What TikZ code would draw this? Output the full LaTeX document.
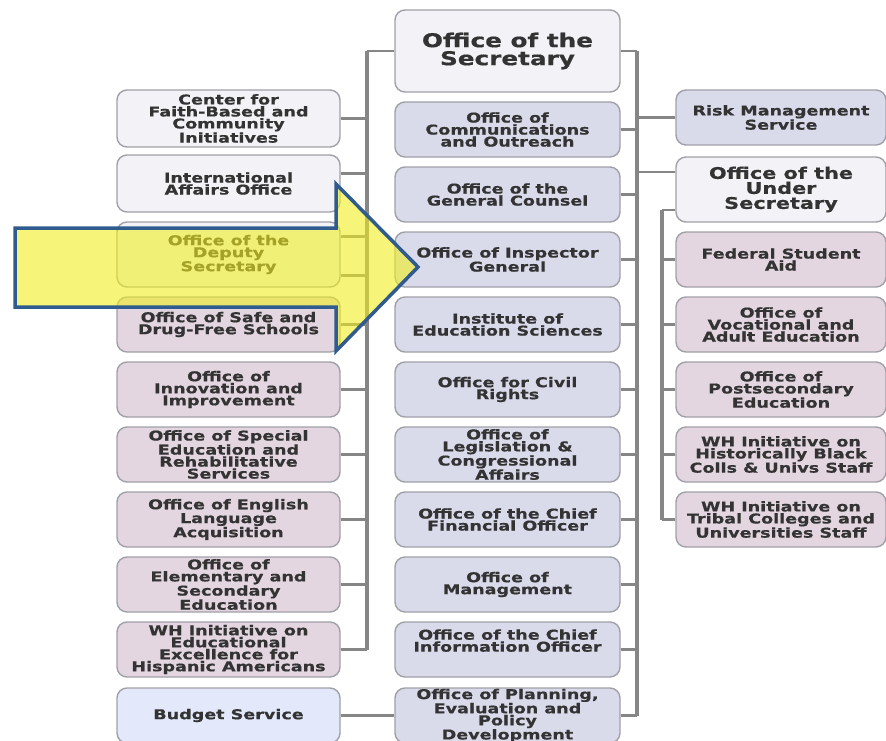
\documentclass[tikz,border=0pt]{standalone}
\usepackage{fontspec}
\newfontfamily\boxfont[FakeStretch=1.3,FakeBold=0.6]{DejaVu Sans}
\definecolor{textc}{HTML}{333333}
\definecolor{boxborder}{HTML}{A0A0A8}
\definecolor{whitefill}{HTML}{F3F3F7}
\definecolor{lavfill}{HTML}{D9DAEA}
\definecolor{pinkfill}{HTML}{E3D6E0}
\definecolor{bluefill}{HTML}{E3E8FA}
\definecolor{linec}{HTML}{868686}
\definecolor{arrowfill}{HTML}{F0EE20}
\definecolor{arrowline}{HTML}{2F5B8F}
\tikzset{
  bx/.style={draw=boxborder, line width=1.4pt, rounded corners=10pt, align=center,
    inner sep=0pt, text=textc, minimum height=55pt,
    font={\boxfont\bfseries\fontsize{13.5}{12}\selectfont}},
  bigtext/.style={font={\boxfont\bfseries\fontsize{19}{18}\selectfont}},
  medtext/.style={font={\boxfont\bfseries\fontsize{16}{15}\selectfont}},
  lcol/.style={bx, minimum width=223pt},
  ccol/.style={bx, minimum width=225pt},
  rcol/.style={bx, minimum width=210pt},
  wh/.style={fill=whitefill},
  lav/.style={fill=lavfill},
  pk/.style={fill=pinkfill},
  bl/.style={fill=bluefill},
  vline/.style={draw=linec, line width=4pt},
  conn/.style={draw=linec, line width=2.6pt},
  bigarrow/.style={fill=arrowfill, fill opacity=0.6, draw=arrowline, draw opacity=1, line width=3.5pt, line join=miter}
}
\begin{document}
\begin{tikzpicture}[x=1pt,y=-1pt]
\useasboundingbox (0,0) rectangle (886,741);
\clip (0,0) rectangle (886,741);
\fill[white] (0,0) rectangle (886,741);

\coordinate (L) at (367,0);
\coordinate (R) at (637,0);
\coordinate (U) at (662,0);

% center column
\node[ccol, wh, bigtext, minimum height=82pt] (sec) at (507.5,51) {Office of the\\Secretary};
\node[ccol, lav] (comm) at (507.5,129.5) {Office of\\Communications\\and Outreach};
\node[ccol, lav] (coun) at (507.5,194.5) {Office of the\\General Counsel};
\node[ccol, lav] (insp) at (507.5,259.5) {Office of Inspector\\General};
\node[ccol, lav] (ies) at (507.5,324.5) {Institute of\\Education Sciences};
\node[ccol, lav] (ocr) at (507.5,389.5) {Office for Civil\\Rights};
\node[ccol, lav] (leg) at (507.5,454.5) {Office of\\Legislation \&\\Congressional\\Affairs};
\node[ccol, lav] (cfo) at (507.5,519.5) {Office of the Chief\\Financial Officer};
\node[ccol, lav] (mgmt) at (507.5,584.5) {Office of\\Management};
\node[ccol, lav] (cio) at (507.5,649.5) {Office of the Chief\\Information Officer\\[6pt]};
\node[ccol, lav] (plan) at (507.5,715.5) {Office of Planning,\\Evaluation and\\Policy\\Development};

% left column
\node[lcol, wh, minimum height=57pt] (faith) at (228.5,118.5) {Center for\\Faith-Based and\\Community\\Initiatives};
\node[lcol, wh, minimum height=57pt] (intl) at (228.5,183.5) {International\\Affairs Office};
\node[lcol, wh, minimum height=65pt] (dep) at (228.5,254.5) {Office of the\\Deputy\\Secretary};
\node[lcol, pk] (safe) at (228.5,324.5) {Office of Safe and\\Drug-Free Schools};
\node[lcol, pk] (innov) at (228.5,389.5) {Office of\\Innovation and\\Improvement};
\node[lcol, pk] (spec) at (228.5,454.5) {Office of Special\\Education and\\Rehabilitative\\Services};
\node[lcol, pk] (engl) at (228.5,519.5) {Office of English\\Language\\Acquisition};
\node[lcol, pk] (elem) at (228.5,584.5) {Office of\\Elementary and\\Secondary\\Education};
\node[lcol, pk] (hisp) at (228.5,649.5) {WH Initiative on\\Educational\\Excellence for\\Hispanic Americans};
\node[lcol, bl] (budg) at (228.5,715.5) {Budget Service};

% right column
\node[rcol, lav] (risk) at (781,117.5) {Risk Management\\Service};
\node[rcol, wh, medtext, minimum height=65pt] (under) at (781,189.5) {Office of the\\Under\\Secretary};
\node[rcol, pk] (fsa) at (781,259.5) {Federal Student\\Aid};
\node[rcol, pk] (voc) at (781,324.5) {Office of\\Vocational and\\Adult Education};
\node[rcol, pk] (post) at (781,389.5) {Office of\\Postsecondary\\Education};
\node[rcol, pk] (hbcu) at (781,454.5) {WH Initiative on\\Historically Black\\Colls \& Univs Staff};
\node[rcol, pk] (tribal) at (781,519.5) {WH Initiative on\\Tribal Colleges and\\Universities Staff};

% left trunk
\draw[vline] (sec.west -| L) -- (hisp.east -| L);
\draw[conn] (sec.west) -- (sec.west -| L);
\draw[conn] (faith.east) -- (faith.east -| L);
\draw[conn] ([yshift=10pt]intl.east) -- ([yshift=10pt]intl.east -| L);
\draw[conn] ([yshift=18pt]dep.east) -- ([yshift=18pt]dep.east -| L);
\draw[conn] ([yshift=-21pt]dep.east) -- ([yshift=-21pt]dep.east -| L);
\foreach \n in {safe,innov,spec,engl,elem,hisp}
  \draw[conn] (\n.east) -- (\n.east -| L);

% right trunk
\draw[vline] (sec.east -| R) -- (plan.east -| R);
\foreach \n in {sec,comm,coun,insp,ies,ocr,leg,cfo,mgmt,cio,plan}
  \draw[conn] (\n.east) -- (\n.east -| R);
\draw[conn] (risk.west) -- (risk.west -| R);
\draw[conn] ([yshift=17.5pt]under.west) -- ([yshift=17.5pt]under.west -| R);

% under secretary trunk
\draw[vline] ([yshift=-20.5pt]under.west -| U) -- (tribal.west -| U);
\draw[conn] ([yshift=-20.5pt]under.west) -- ([yshift=-20.5pt]under.west -| U);
\foreach \n in {fsa,voc,post,hbcu,tribal}
  \draw[conn] (\n.west) -- (\n.west -| U);

% budget
\draw[conn] (budg.east) -- (plan.west);

% highlight arrow
\draw[bigarrow] (15,228) -- (336,228) -- (336,184) -- (418,267) -- (336,351) -- (336,307) -- (15,307) -- cycle;
\end{tikzpicture}
\end{document}
